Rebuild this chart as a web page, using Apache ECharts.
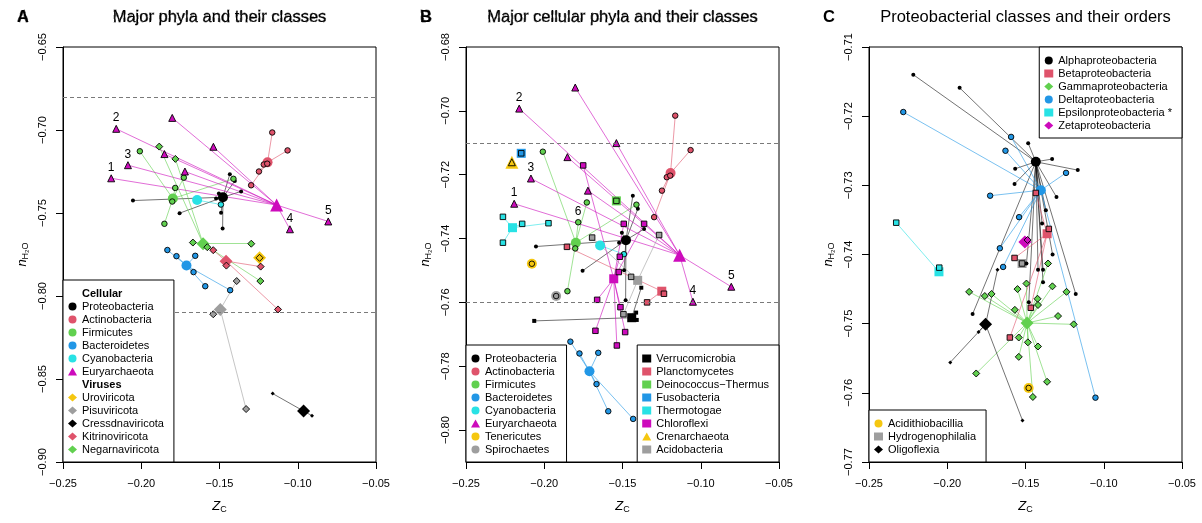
<!DOCTYPE html>
<html>
<head>
<meta charset="utf-8">
<script src="https://cdn.jsdelivr.net/npm/echarts@6/dist/echarts.min.js"></script>
<style>
html,body{margin:0;padding:0;background:#fff}
#chart{width:1202px;height:523px}
</style>
</head>
<body>
<div id="chart"></div>
<script>
// ---- axes ----
var xTicks = [-0.25, -0.20, -0.15, -0.10, -0.05];
var aYTicks = [-0.90, -0.85, -0.80, -0.75, -0.70, -0.65];
var bYTicks = [-0.80, -0.78, -0.76, -0.74, -0.72, -0.70, -0.68];
var cYTicks = [-0.77, -0.76, -0.75, -0.74, -0.73, -0.72, -0.71];
var aYRange = [-0.90, -0.65];
var bYRange = [-0.81, -0.68];
var cYRange = [-0.77, -0.71];
var aZoomBand = [-0.68, -0.81];   // part of A that B shows
var bZoomBand = [-0.71, -0.76];   // part of B that C shows

// ---- cellular phyla (mean, then its classes) ----
var proteoMean = [-0.1478, -0.7405];
// proteobacterial classes: Alpha, Beta, Gamma, Delta, Epsilon, Zeta, Acidithiobacillia, Hydrogenophilalia, Oligoflexia
var proteoClasses = [[-0.1434,-0.7266],[-0.1362,-0.7370],[-0.1490,-0.7499],[-0.1402,-0.7307],[-0.2053,-0.7425],
	[-0.1504,-0.7382],[-0.1480,-0.7593],[-0.1522,-0.7413],[-0.1755,-0.7501]];
var actinoMean = [-0.1193, -0.7195];
var actinoClasses = [[-0.1163,-0.7015],[-0.1065,-0.7123],[-0.1217,-0.7208],[-0.1195,-0.7203],[-0.1248,-0.7250],[-0.1298,-0.7333]];
var firmiMean = [-0.1798, -0.7413];
var firmiClasses = [[-0.2009,-0.7128],[-0.1728,-0.7287],[-0.1783,-0.7349],[-0.1411,-0.7294],[-0.1802,-0.7431],[-0.1852,-0.7565]];
var bactMean = [-0.1711, -0.7816];
var bactClasses = [[-0.1833,-0.7723],[-0.1775,-0.7760],[-0.1655,-0.7758],[-0.1666,-0.7856],[-0.1591,-0.7941],[-0.1432,-0.7965]];
var cyanoMean = [-0.1643, -0.7422];
var cyanoClasses = [[-0.1491,-0.7449]];
var euryMean = [-0.1135, -0.7452];
var euryClasses = [[-0.2160,-0.6993],[-0.1802,-0.6927],[-0.1539,-0.7101],[-0.1852,-0.7145],[-0.2085,-0.7212],
	[-0.1721,-0.7250],[-0.2192,-0.7291],[-0.1050,-0.7598],[-0.0805,-0.7551]];
var teneMean = [-0.2079, -0.7479];
var teneClasses = [[-0.2079,-0.7479]];
var spiroMean = [-0.1924, -0.7580];
var spiroClasses = [[-0.1924,-0.7580]];
var verruMean = [-0.1441, -0.7648];
var verruClasses = [[-0.2064,-0.7658],[-0.1380,-0.7554],[-0.1413,-0.7632],[-0.1409,-0.7655]];
var planctoMean = [-0.1249, -0.7565];
var planctoClasses = [[-0.1235,-0.7573],[-0.1343,-0.7600],[-0.1855,-0.7426]];
var deinoMean = [-0.1539, -0.7282];
var deinoClasses = [[-0.1539,-0.7282]];
var fusoMean = [-0.2147, -0.7133];
var fusoClasses = [[-0.2147,-0.7133]];
var thermoMean = [-0.2203, -0.7366];
var thermoClasses = [[-0.2264,-0.7332],[-0.2141,-0.7354],[-0.1973,-0.7352],[-0.2264,-0.7413]];
var chloroMean = [-0.1556, -0.7526];
var chloroClasses = [[-0.1751,-0.7171],[-0.1492,-0.7354],[-0.1362,-0.7354],[-0.1517,-0.7457],[-0.1524,-0.7505],
	[-0.1662,-0.7592],[-0.1513,-0.7615],[-0.1673,-0.7689],[-0.1483,-0.7693],[-0.1536,-0.7735]];
var crenMean = [-0.2207, -0.7161];
var crenClasses = [[-0.2207,-0.7161]];
var acidoMean = [-0.1403, -0.7531];
var acidoClasses = [[-0.1445,-0.7520],[-0.1266,-0.7389],[-0.1494,-0.7637],[-0.1694,-0.7397]];

// ---- viral phyla ----
var uroMean = [-0.1244, -0.7770];
var uroClasses = [[-0.1244,-0.7770]];
var pisuMean = [-0.1495, -0.8081];
var pisuClasses = [[-0.1540,-0.8110],[-0.1390,-0.7910],[-0.1330,-0.8681]];
var cressMean = [-0.0963, -0.8693];
var cressClasses = [[-0.1160,-0.8588],[-0.0909,-0.8721]];
var kitriMean = [-0.1458, -0.7790];
var kitriClasses = [[-0.1540,-0.7724],[-0.1456,-0.7817],[-0.1237,-0.7823],[-0.1126,-0.8081]];
var negarMean = [-0.1605, -0.7685];
var negarClasses = [[-0.1885,-0.7100],[-0.1782,-0.7174],[-0.1670,-0.7678],[-0.1578,-0.7706],[-0.1297,-0.7685],[-0.1239,-0.7910]];

// ---- proteobacterial orders (panel C), class means are proteoClasses ----
var alphaOrders = [[-0.2217,-0.7140],[-0.1921,-0.7159],[-0.1483,-0.7239],[-0.1330,-0.7262],[-0.1166,-0.7278],[-0.1566,-0.7276],
	[-0.1570,-0.7298],[-0.1302,-0.7317],[-0.1370,-0.7336],[-0.1394,-0.7355],[-0.1327,-0.7400],[-0.1388,-0.7422],
	[-0.1420,-0.7422],[-0.1494,-0.7413],[-0.1388,-0.7440],[-0.1179,-0.7457],[-0.1479,-0.7469],[-0.1838,-0.7486]];
var betaOrders = [[-0.1434,-0.7311],[-0.1351,-0.7363],[-0.1570,-0.7405],[-0.1466,-0.7477],[-0.1600,-0.7520]];
var gammaOrders = [[-0.1860,-0.7454],[-0.1760,-0.7460],[-0.1717,-0.7457],[-0.1551,-0.7450],[-0.1494,-0.7442],
	[-0.1328,-0.7446],[-0.1238,-0.7454],[-0.1356,-0.7413],[-0.1568,-0.7480],[-0.1423,-0.7464],[-0.1420,-0.7473],
	[-0.1292,-0.7489],[-0.1192,-0.7501],[-0.1543,-0.7520],[-0.1485,-0.7527],[-0.1420,-0.7533],[-0.1543,-0.7548],
	[-0.1815,-0.7572],[-0.1362,-0.7584],[-0.1453,-0.7606]];
var deltaOrders = [[-0.2281,-0.7194],[-0.1592,-0.7230],[-0.1628,-0.7250],[-0.1241,-0.7282],[-0.1726,-0.7315],
	[-0.1541,-0.7346],[-0.1664,-0.7391],[-0.1643,-0.7418],[-0.1053,-0.7607]];
var epsilonOrders = [[-0.2326,-0.7354],[-0.2051,-0.7419]];
var zetaOrders = [[-0.1487,-0.7379]];
var acidiOrders = [[-0.1480,-0.7593]];
var hydroOrders = [[-0.1522,-0.7413]];
var oligoOrders = [[-0.1679,-0.7422],[-0.1800,-0.7512],[-0.1981,-0.7556],[-0.1519,-0.7640]];

// numbered Euryarchaeota / Firmicutes classes (index in the class list -> label)
var aNumbers = {Euryarchaeota: {6:'1', 0:'2', 4:'3', 7:'4', 8:'5'}};
var bNumbers = {Euryarchaeota: {6:'1', 0:'2', 4:'3', 7:'4', 8:'5'}, Firmicutes: {2:'6'}};

// ---- styling ----
var FONT = 'Liberation Sans, Arial, Helvetica, sans-serif';
var pal = {black:'#000000', red:'#DF536B', green:'#61D04F', blue:'#2297E6', cyan:'#28E2E5', magenta:'#CD0BBC', yellow:'#F5C710', gray:'#9E9E9E'};
var bigSize = {circle:10, triangle:13, diamond:13, rect:9};
var smallSize = {circle:5.5, triangle:7, diamond:7, rect:5.5};

var cellular = [
	['Proteobacteria', proteoMean, proteoClasses, pal.black, 'circle'],
	['Actinobacteria', actinoMean, actinoClasses, pal.red, 'circle'],
	['Firmicutes', firmiMean, firmiClasses, pal.green, 'circle'],
	['Bacteroidetes', bactMean, bactClasses, pal.blue, 'circle'],
	['Cyanobacteria', cyanoMean, cyanoClasses, pal.cyan, 'circle'],
	['Euryarchaeota', euryMean, euryClasses, pal.magenta, 'triangle']
];
var viruses = [
	['Uroviricota', uroMean, uroClasses, pal.yellow, 'diamond'],
	['Pisuviricota', pisuMean, pisuClasses, pal.gray, 'diamond'],
	['Cressdnaviricota', cressMean, cressClasses, pal.black, 'diamond'],
	['Kitrinoviricota', kitriMean, kitriClasses, pal.red, 'diamond'],
	['Negarnaviricota', negarMean, negarClasses, pal.green, 'diamond']
];
var moreCellular = [
	['Tenericutes', teneMean, teneClasses, pal.yellow, 'circle'],
	['Spirochaetes', spiroMean, spiroClasses, pal.gray, 'circle'],
	['Verrucomicrobia', verruMean, verruClasses, pal.black, 'rect'],
	['Planctomycetes', planctoMean, planctoClasses, pal.red, 'rect'],
	['Deinococcus\u2212Thermus', deinoMean, deinoClasses, pal.green, 'rect'],
	['Fusobacteria', fusoMean, fusoClasses, pal.blue, 'rect'],
	['Thermotogae', thermoMean, thermoClasses, pal.cyan, 'rect'],
	['Chloroflexi', chloroMean, chloroClasses, pal.magenta, 'rect'],
	['Crenarchaeota', crenMean, crenClasses, pal.yellow, 'triangle'],
	['Acidobacteria', acidoMean, acidoClasses, pal.gray, 'rect']
];
var proteo = [
	['Alphaproteobacteria', proteoClasses[0], alphaOrders, pal.black, 'circle'],
	['Betaproteobacteria', proteoClasses[1], betaOrders, pal.red, 'rect'],
	['Gammaproteobacteria', proteoClasses[2], gammaOrders, pal.green, 'diamond'],
	['Deltaproteobacteria', proteoClasses[3], deltaOrders, pal.blue, 'circle'],
	['Epsilonproteobacteria *', proteoClasses[4], epsilonOrders, pal.cyan, 'rect'],
	['Zetaproteobacteria', proteoClasses[5], zetaOrders, pal.magenta, 'diamond'],
	['Acidithiobacillia', proteoClasses[6], acidiOrders, pal.yellow, 'circle'],
	['Hydrogenophilalia', proteoClasses[7], hydroOrders, pal.gray, 'rect'],
	['Oligoflexia', proteoClasses[8], oligoOrders, pal.black, 'diamond']
];

function fmt(v){
	return (Math.round(v*100)/100).toFixed(2).replace('-', '\u2212');
}

var series = [];
function addGroup(gi, g, numbers){
	var name = g[0], mean = g[1], pts = g[2], color = g[3], shape = g[4];
	var dark = color === pal.black;
	var edges = [];
	for(var i=0;i<pts.length;i++){
		if(pts[i][0]!==mean[0] || pts[i][1]!==mean[1])
			edges.push({coords:[mean, pts[i]]});
	}
	series.push({type:'lines', coordinateSystem:'cartesian2d', xAxisIndex:gi, yAxisIndex:gi, z:1, silent:true,
		lineStyle:{color:color, width:1, opacity:dark?0.55:0.6}, data:edges});
	series.push({type:'scatter', name:name, xAxisIndex:gi, yAxisIndex:gi, z:2, silent:true,
		symbol:shape, symbolSize:bigSize[shape], itemStyle:{color:color, borderWidth:0, opacity:1}, data:[mean]});
	var nums = (numbers && numbers[name]) || {};
	var pdata = [];
	for(var j=0;j<pts.length;j++){
		var d = {value:pts[j]};
		if(nums[j])
			d.label = {show:true, formatter:nums[j], position:'top', distance:1, color:'#000', fontSize:12, fontFamily:FONT};
		pdata.push(d);
	}
	series.push({type:'scatter', name:name+' classes', xAxisIndex:gi, yAxisIndex:gi, z:3, silent:true,
		symbol:shape, symbolSize:dark?4:smallSize[shape],
		itemStyle:{color:color, borderColor:'#000', borderWidth:dark?0:0.9, opacity:1}, data:pdata});
}

cellular.forEach(function(g){ addGroup(0, g, aNumbers); });
viruses.forEach(function(g){ addGroup(0, g, aNumbers); });
cellular.forEach(function(g){ addGroup(1, g, bNumbers); });
moreCellular.forEach(function(g){ addGroup(1, g, bNumbers); });
proteo.forEach(function(g){ addGroup(2, g, null); });

// legend headers + dashed zoom bands
series.push({type:'scatter', name:'Cellular', xAxisIndex:0, yAxisIndex:0, data:[]});
series.push({type:'scatter', name:'Viruses', xAxisIndex:0, yAxisIndex:0, data:[]});
function band(gi, vals){
	return {type:'scatter', name:'band'+gi, xAxisIndex:gi, yAxisIndex:gi, z:0, silent:true, data:[],
		markLine:{silent:true, symbol:'none', label:{show:false}, animation:false,
			lineStyle:{color:'#7a7a7a', type:[4,3], width:1},
			data:vals.map(function(v){ return {yAxis:v}; })}};
}
series.push(band(0, aZoomBand));
series.push(band(1, bZoomBand));

var gridLeft = [63, 466, 869];
var grids = gridLeft.map(function(l){
	return {left:l, top:47, width:313, height:415, show:true, borderColor:'#000', borderWidth:1, backgroundColor:'transparent'};
});

var axisText = {color:'#000', fontSize:11, fontFamily:FONT};
var richName = {
	i:{fontStyle:'italic', fontSize:13, fontFamily:FONT, color:'#000', lineHeight:16},
	s:{fontSize:9, fontFamily:FONT, color:'#000', verticalAlign:'bottom', lineHeight:9}
};
var xAxes = [0,1,2].map(function(gi){
	return {gridIndex:gi, type:'value', min:-0.25, max:-0.05,
		name:'{i|Z}{s|C}', nameLocation:'middle', nameGap:36, nameTextStyle:{rich:richName},
		axisLine:{show:true, onZero:false, lineStyle:{color:'#000', width:1}},
		axisTick:{show:true, length:7, customValues:xTicks, lineStyle:{color:'#000'}},
		axisLabel:Object.assign({show:true, margin:16, customValues:xTicks, formatter:fmt}, axisText),
		splitLine:{show:false}};
});
var yRanges = [aYRange, bYRange, cYRange];
var yTicks = [aYTicks, bYTicks, cYTicks];
var yAxes = [0,1,2].map(function(gi){
	return {gridIndex:gi, type:'value', min:yRanges[gi][0], max:yRanges[gi][1],
		name:'{i|n}{s|H\u2082O}', nameLocation:'middle', nameGap:33, nameRotate:90, nameTextStyle:{rich:richName},
		axisLine:{show:true, onZero:false, lineStyle:{color:'#000', width:1}},
		axisTick:{show:true, length:7, customValues:yTicks[gi], lineStyle:{color:'#000'}},
		axisLabel:Object.assign({show:true, margin:15, rotate:90, customValues:yTicks[gi], formatter:fmt}, axisText),
		splitLine:{show:false}};
});

function legendBox(pos, items){
	var l = {orient:'vertical', selectedMode:false, backgroundColor:'#fff', borderColor:'#000', borderWidth:1, borderRadius:0,
		padding:[7,10,6,5], itemWidth:9, itemHeight:8, itemGap:0, align:'left', z:10,
		textStyle:{color:'#000', fontSize:11, fontFamily:FONT, lineHeight:13}, itemStyle:{borderWidth:0}, data:items};
	for(var k in pos) l[k] = pos[k];
	return l;
}
function names(list){ return list.map(function(g){ return g[0]; }); }
var head = function(t){ return {name:t, icon:'none', textStyle:{fontWeight:'bold'}}; };

var legends = [
	legendBox({left:63, bottom:61}, [head('Cellular')].concat(names(cellular), [head('Viruses')], names(viruses))),
	legendBox({left:466, bottom:61}, names(cellular).concat(['Tenericutes', 'Spirochaetes'])),
	legendBox({right:423, bottom:61}, names(moreCellular).slice(2)),
	legendBox({right:20, top:47}, names(proteo).slice(0, 6)),
	legendBox({left:869, bottom:61}, names(proteo).slice(6))
];

var titleText = {fill:'#000', fontSize:16.5, fontFamily:FONT, verticalAlign:'middle'};
function txt(x, text, align, bold){
	return {type:'text', x:x, y:17, style:Object.assign({text:text, align:align, fontWeight:bold?'bold':'normal'}, titleText)};
}

var chart = echarts.init(document.getElementById('chart'));
chart.setOption({
	animation:false,
	backgroundColor:'#fff',
	grid:grids,
	xAxis:xAxes,
	yAxis:yAxes,
	legend:legends,
	series:series,
	graphic:[
		txt(17, 'A', 'left', true), txt(219.5, 'Major phyla and their classes', 'center'),
		txt(420, 'B', 'left', true), txt(622.5, 'Major cellular phyla and their classes', 'center'),
		txt(823, 'C', 'left', true), txt(1025.5, 'Proteobacterial classes and their orders', 'center')
	]
});

// dashed connectors from the zoom bands to the next panel
var dash = {stroke:'#7a7a7a', lineWidth:1, lineDash:[4,3]};
var a1 = chart.convertToPixel({gridIndex:0}, [-0.05, aZoomBand[0]]);
var a2 = chart.convertToPixel({gridIndex:0}, [-0.05, aZoomBand[1]]);
var b1 = chart.convertToPixel({gridIndex:1}, [-0.05, bZoomBand[0]]);
var b2 = chart.convertToPixel({gridIndex:1}, [-0.05, bZoomBand[1]]);
chart.setOption({graphic:[
	{type:'line', silent:true, shape:{x1:a1[0], y1:a1[1], x2:432, y2:44}, style:dash},
	{type:'line', silent:true, shape:{x1:a2[0], y1:a2[1], x2:432, y2:463}, style:dash},
	{type:'line', silent:true, shape:{x1:b1[0], y1:b1[1], x2:833, y2:44}, style:dash},
	{type:'line', silent:true, shape:{x1:b2[0], y1:b2[1], x2:833, y2:463}, style:dash}
]});
</script>
</body>
</html>
